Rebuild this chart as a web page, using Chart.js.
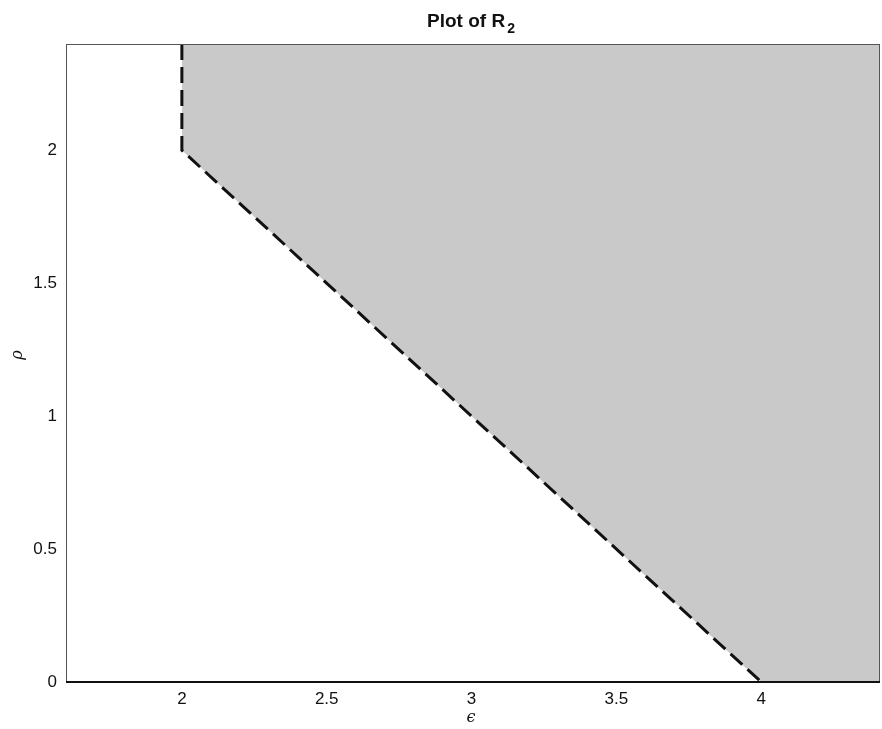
<!DOCTYPE html>
<html>
<head>
<meta charset="utf-8">
<script src="https://cdn.jsdelivr.net/npm/chart.js@4"></script>
<style>
  html, body { margin: 0; padding: 0; background: #fff; }
  #wrap { width: 882px; height: 729px; }
</style>
</head>
<body>
<div id="wrap"><canvas id="chart" width="882" height="729"></canvas></div>
<script>
// region R2 boundary (epsilon, rho)
var boundaryX = [2, 2, 4];
var boundaryY = [2.4, 2, 0];
// shaded region outline (filled up to the top)
var regionX = [2, 2, 4, 4.41];
var regionY = [2.4, 2, 0, 0];
var xTicks = [2, 2.5, 3, 3.5, 4];
var yTicks = [0, 0.5, 1, 1.5, 2];

function toPoints(xs, ys) {
  return xs.map(function (x, i) { return { x: x, y: ys[i] }; });
}

// box + titles
var frame = {
  id: "frame",
  afterDraw: function (chart) {
    var c = chart.ctx, a = chart.chartArea;
    c.save();
    c.strokeStyle = "#555";
    c.lineWidth = 1;
    c.strokeRect(a.left + 0.5, a.top + 0.5, a.right - a.left - 1, a.bottom - a.top);
    c.strokeStyle = "#111";
    c.lineWidth = 2;
    c.beginPath();
    c.moveTo(a.left, a.bottom);
    c.lineTo(a.right, a.bottom);
    c.stroke();

    c.fillStyle = "#111";
    c.font = "bold 19px 'Liberation Sans', Arial, sans-serif";
    c.textBaseline = "alphabetic";
    var t = "Plot of R";
    var w = c.measureText(t).width;
    c.font = "bold 14px 'Liberation Sans', Arial, sans-serif";
    var w2 = c.measureText("2").width;
    var x0 = 471 - (w + w2 + 2) / 2;
    c.font = "bold 19px 'Liberation Sans', Arial, sans-serif";
    c.textAlign = "left";
    c.fillText(t, x0, 27);
    c.font = "bold 14px 'Liberation Sans', Arial, sans-serif";
    c.fillText("2", x0 + w + 2, 33);

    c.font = "italic 16px 'DejaVu Serif', serif";
    c.textAlign = "center";
    c.textBaseline = "middle";
    c.fillText("\u03f5", 471, 718);
    c.translate(18, 355);
    c.rotate(-Math.PI / 2);
    c.fillText("\u03c1", 0, 0);
    c.restore();
  }
};

function fmt(v) { return String(v); }

new Chart(document.getElementById("chart"), {
  type: "scatter",
  data: {
    datasets: [
      {
        data: toPoints(regionX, regionY),
        showLine: true,
        fill: "end",
        backgroundColor: "#c9c9c9",
        borderWidth: 0,
        pointRadius: 0,
        order: 2,
      },
      {
        data: toPoints(boundaryX, boundaryY),
        showLine: true,
        fill: false,
        borderColor: "#111",
        borderWidth: 3,
        borderDash: [16, 7],
        pointRadius: 0,
        order: 1,
      },
    ],
  },
  options: {
    responsive: false,
    animation: false,
    layout: { padding: { top: 44, right: 2, left: 0, bottom: 0 } },
    plugins: { legend: { display: false }, tooltip: { enabled: false } },
    scales: {
      x: {
        type: "linear",
        min: 1.6,
        max: 4.41,
        grid: { display: false, drawTicks: false },
        border: { display: false },
        afterBuildTicks: function (s) { s.ticks = xTicks.map(function (v) { return { value: v }; }); },
        afterFit: function (s) { s.height = 47; },
        ticks: { padding: 7, color: "#111", callback: fmt, font: { size: 17, family: "'Liberation Sans', Arial, sans-serif" } },
      },
      y: {
        type: "linear",
        min: 0,
        max: 2.4,
        grid: { display: false, drawTicks: false },
        border: { display: false },
        afterBuildTicks: function (s) { s.ticks = yTicks.map(function (v) { return { value: v }; }); },
        afterFit: function (s) { s.width = 66; },
        ticks: { padding: 9, color: "#111", callback: fmt, font: { size: 17, family: "'Liberation Sans', Arial, sans-serif" } },
      },
    },
  },
  plugins: [frame],
});
</script>
</body>
</html>
